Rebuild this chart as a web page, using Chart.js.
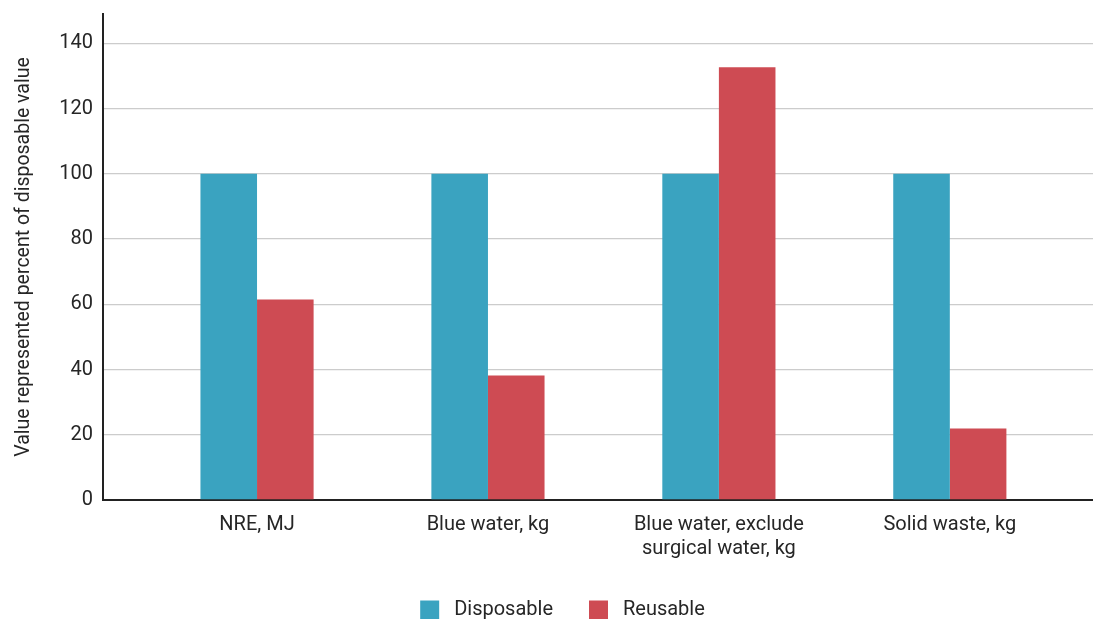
<!DOCTYPE html>
<html>
<head>
<meta charset="utf-8">
<script src="https://cdn.jsdelivr.net/npm/chart.js@4.4.1/dist/chart.umd.min.js"></script>
<style>
  html, body { margin: 0; padding: 0; background: #fff; }
  #wrap { width: 1093px; height: 619px; position: relative; }
</style>
</head>
<body>
<div id="wrap"><canvas id="chart"></canvas></div>
<script>
// Impact categories (multi-line labels as arrays)
const categories = [
  ['NRE, MJ'],
  ['Blue water, kg'],
  ['Blue water, exclude', 'surgical water, kg'],
  ['Solid waste, kg']
];
// Values expressed as percent of the disposable gown value
const disposableValues = [100, 100, 100, 100];
const reusableValues = [61.5, 38.2, 132.7, 21.9];
const yTicks = [0, 20, 40, 60, 80, 100, 120, 140];

const seriesNames = ['Disposable', 'Reusable'];
const colors = ['#3AA3C0', '#CE4B53'];

// Bars sit on a numeric x axis at positions 0..n-1
const toPoints = vals => vals.map((v, i) => ({ x: i, y: v }));

const textColor = '#262626';
Chart.defaults.font.family = 'Roboto, "Open Sans", sans-serif';
Chart.defaults.color = textColor;

// Nudge the legend block sideways within its box
const legendShift = {
  id: 'legendShift',
  afterLayout(chart) {
    if (chart.legend) chart.legend.left += 32;
  }
};

new Chart(document.getElementById('chart'), {
  type: 'bar',
  data: {
    datasets: [
      { label: seriesNames[0], data: toPoints(disposableValues), backgroundColor: colors[0],
        categoryPercentage: 0.49, barPercentage: 1.0 },
      { label: seriesNames[1], data: toPoints(reusableValues), backgroundColor: colors[1],
        categoryPercentage: 0.49, barPercentage: 1.0 }
    ]
  },
  plugins: [legendShift],
  options: {
    responsive: true,
    maintainAspectRatio: false,
    animation: false,
    layout: { padding: { top: 14, right: 0, left: 0, bottom: -11 } },
    plugins: {
      tooltip: { enabled: false },
      legend: {
        position: 'bottom',
        labels: {
          boxWidth: 19,
          boxHeight: 19,
          padding: 36,
          font: { size: 20 },
          color: textColor,
          generateLabels: chart => {
            const items = Chart.defaults.plugins.legend.labels.generateLabels(chart);
            items.forEach(it => { it.text = ' ' + it.text; });
            return items;
          }
        }
      }
    },
    scales: {
      x: {
        type: 'linear',
        min: -0.667,
        max: 3.62,
        offset: false,
        grid: { display: false, drawTicks: false },
        border: { display: true, color: '#222222', width: 2 },
        afterBuildTicks: scale => {
          scale.ticks = categories.map((_, i) => ({ value: i }));
        },
        ticks: {
          autoSkip: false,
          maxRotation: 0,
          padding: 13,
          font: { size: 20 },
          color: textColor,
          callback: v => categories[v]
        },
        afterFit: scale => {
          scale.height = 64;
          scale.paddingLeft = 0;
          scale.paddingRight = 0;
        }
      },
      y: {
        min: 0,
        max: 149,
        afterBuildTicks: scale => {
          scale.ticks = yTicks.map(v => ({ value: v }));
        },
        grid: { color: '#cccccc', lineWidth: 1.3, drawTicks: false },
        border: { display: true, color: '#222222', width: 2 },
        ticks: {
          padding: 10,
          font: { size: 20 },
          color: textColor
        },
        title: {
          display: true,
          text: 'Value represented percent of disposable value',
          font: { size: 19.5 },
          color: textColor,
          padding: { top: 12, bottom: 4 }
        },
        afterFit: scale => {
          scale.width = 103;
          scale.paddingTop = 0;
          scale.paddingBottom = 0;
        }
      }
    }
  }
});
</script>
</body>
</html>
